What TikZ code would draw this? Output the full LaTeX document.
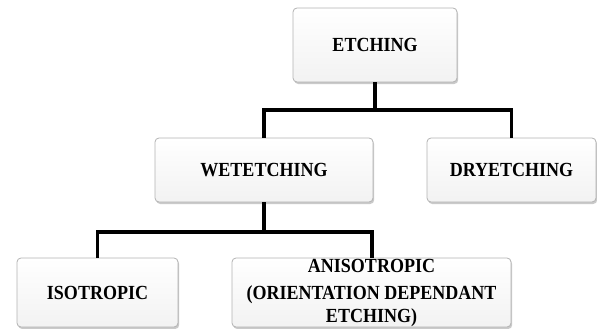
\documentclass[tikz,border=0pt]{standalone}
\usepackage{fontspec}
\usepackage{graphicx}
\newfontfamily\boxfont[FakeStretch=0.9]{Liberation Serif}
\usetikzlibrary{shadows}
\begin{document}
\begin{tikzpicture}[x=1pt,y=-1pt,
  treebox/.style={draw=gray!60, line width=0.8pt, rounded corners=4pt,
    top color=white, bottom color=gray!10, inner sep=0pt,
    drop shadow={shadow xshift=1.2pt, shadow yshift=-2pt, opacity=0.35, fill=black!60}},
  boxtext/.style={font=\boxfont\bfseries\fontsize{20}{22.5}\selectfont, text=black, inner sep=0pt, align=center},
  conn/.style={line width=3.5pt, black}]
\useasboundingbox (0,0) rectangle (597,329);
% boxes
\node[treebox, minimum width=164pt, minimum height=74pt] (etch) at (375,45) {};
\node[treebox, minimum width=218pt, minimum height=64pt] (wet) at (264,170) {};
\node[treebox, minimum width=169pt, minimum height=64pt] (dry) at (511.5,170) {};
\node[treebox, minimum width=161pt, minimum height=69pt] (iso) at (97.5,292.5) {};
\node[treebox, minimum width=279pt, minimum height=69pt] (aniso) at (371.5,292.5) {};
% texts
\node[boxtext] (etchtxt) at (etch.center) {ETCHING};
\node[boxtext] (wettxt) at (wet.center) {WETETCHING};
\node[boxtext] (drytxt) at (dry.center) {DRYETCHING};
\node[boxtext] (isotxt) at (iso.center) {ISOTROPIC};
\node[boxtext, anchor=north] (anisotxt) at (371.5,259) {ANISOTROPIC\\[5pt](ORIENTATION DEPENDANT\\ETCHING)};
% connectors
\coordinate (j1) at (etch.south |- 0,110);
\coordinate (j2) at (wet.south |- 0,232);
\draw[conn] (etch.south) -- (j1);
\draw[conn] (wet.north) |- (j1) -| (dry.north);
\draw[conn] (wet.south) -- (j2);
\draw[conn] (iso.north) |- (j2) -| (aniso.north -| 372,0);
\end{tikzpicture}
\end{document}
